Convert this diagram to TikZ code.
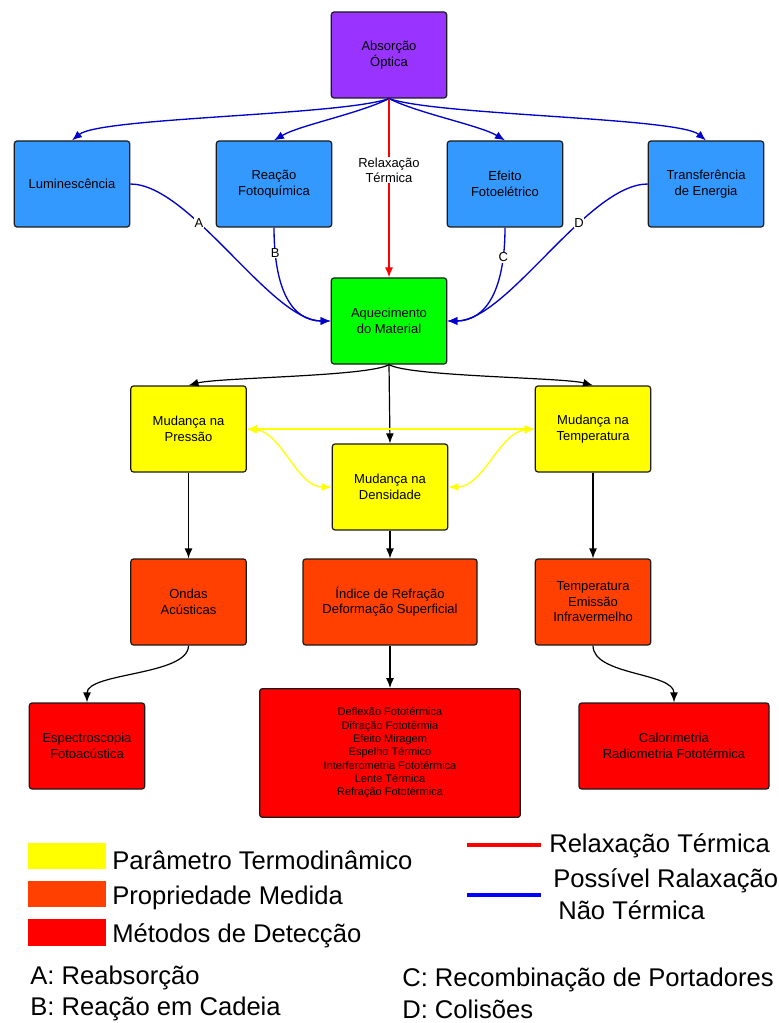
\documentclass[tikz,border=0pt]{standalone}
\usepackage{fontspec}
\setmainfont{Liberation Sans}
\usetikzlibrary{positioning,calc,arrows.meta}

\definecolor{roxo}{HTML}{9933FF}
\definecolor{azul}{HTML}{3399FF}
\definecolor{verde}{HTML}{00FF00}
\definecolor{amarelo}{HTML}{FFFF00}
\definecolor{laranja}{HTML}{FF4000}
\definecolor{vermelho}{HTML}{FF0000}
\definecolor{azulescuro}{HTML}{0000CC}
\definecolor{borda}{HTML}{1A1A1A}

\tikzset{
    caixa/.style={draw=borda, line width=0.9pt, rounded corners=2pt, align=center,
        minimum width=86.5pt, minimum height=64.5pt, inner sep=2pt,
        font=\fontsize{9.75}{11.6}\selectfont},
    rotulo/.style={fill=white, text=black, inner sep=0.5pt, font=\fontsize{9.75}{11.6}\selectfont, align=center},
    legenda/.style={anchor=base west, inner sep=0pt, font=\fontsize{19.2}{23}\selectfont, align=left},
    azulseta/.style={->, azulescuro, line width=1pt},
    pretoseta/.style={->, black, line width=0.9pt},
    amareloseta/.style={<->, amarelo, line width=1pt},
}

\begin{document}
\begin{tikzpicture}[x=0.75pt, y=0.75pt, >={Latex[length=7.5pt,width=6pt]}]
    \useasboundingbox (0,0) rectangle (778,-1023);

    % topo
    \node [caixa, fill=roxo] (abs) at (389,-55) {Absorção\\Óptica};

    % processos de relaxação
    \node [caixa, fill=azul] (lum) at (72,-184) {Luminescência};
    \node [caixa, fill=azul] (rea) at (274,-184) {Reação\\Fotoquímica};
    \node [caixa, fill=azul] (efe) at (505,-184) {Efeito\\Fotoelétrico};
    \node [caixa, fill=azul] (tra) at (706,-184) {Transferência\\de Energia};

    \node [caixa, fill=verde] (aq) at (389,-321) {Aquecimento\\do Material};

    % parametros termodinamicos
    \node [caixa, fill=amarelo] (pre) at (188.5,-429) {Mudança na\\Pressão};
    \node [caixa, fill=amarelo] (den) at (390,-487) {Mudança na\\Densidade};
    \node [caixa, fill=amarelo] (tem) at (593,-429) {Mudança na\\Temperatura};

    % propriedades medidas
    \node [caixa, fill=laranja] (ond) at (188.5,-602) {Ondas\\Acústicas};
    \node [caixa, fill=laranja, minimum width=130.5pt] (ind) at (390,-602) {Índice de Refração\\Deformação Superficial};
    \node [caixa, fill=laranja] (tmp) at (593,-602) {Temperatura\\Emissão\\Infravermelho};

    % metodos de deteccao
    \node [caixa, fill=vermelho] (esp) at (87,-746) {Espectroscopia\\Fotoacústica};
    \node [caixa, fill=vermelho, minimum width=195.5pt, minimum height=96.5pt,
        font=\fontsize{8.25}{10}\selectfont] (met) at (390,-753)
        {Deflexão Fototérmica\\Difração Fototérmia\\Efeito Miragem\\Espelho Térmico\\Interferometria Fototérmica\\Lente Térmica\\Refração Fototérmica};
    \node [caixa, fill=vermelho, minimum width=142.5pt] (cal) at (674,-746) {Calorimetria\\Radiometria Fototérmica};

    % absorcao -> processos nao termicos
    \draw [azulseta] (abs.south) .. controls +(-49,-17) and +(28,23) .. (lum.north);
    \draw [azulseta] (abs.south) .. controls +(-30,-15) and +(25,15) .. (rea.north);
    \draw [azulseta] (abs.south) .. controls +(30,-15) and +(-25,15) .. (efe.north);
    \draw [azulseta] (abs.south) .. controls +(49,-17) and +(-28,23) .. (tra.north);

    % relaxacao termica
    \draw [->, vermelho, line width=1pt] (abs.south) -- node[rotulo, pos=0.4] (rt) {Relaxação\\Térmica} (aq.north);

    % processos -> aquecimento
    \draw [azulseta] (lum.east) .. controls +(60,0) and +(-60,0) .. node[rotulo, pos=0.35] (la) {A} (aq.west);
    \draw [azulseta] (rea.south) .. controls +(0,-60) and +(-40,0) .. node[rotulo, pos=0.15] (lb) {B} (aq.west);
    \draw [azulseta] (efe.south) .. controls +(0,-60) and +(40,0) .. node[rotulo, pos=0.18] (lc) {C} (aq.east);
    \draw [azulseta] (tra.west) .. controls +(-60,0) and +(60,0) .. node[rotulo, pos=0.35] (ld) {D} (aq.east);

    % aquecimento -> parametros
    \draw [pretoseta] (aq.south) .. controls +(-20,-12) and +(30,8) .. (pre.north);
    \draw [pretoseta] (aq.south) -- (den.north);
    \draw [pretoseta] (aq.south) .. controls +(20,-12) and +(-30,8) .. (tem.north);

    % acoplamento entre parametros
    \draw [amareloseta] (pre.east) -- (tem.west);
    \draw [amareloseta] (pre.east) .. controls +(35,-3) and +(-35,0) .. (den.west);
    \draw [amareloseta] (tem.west) .. controls +(-35,-3) and +(35,0) .. (den.east);

    % parametros -> propriedades
    \draw [pretoseta] (pre.south) -- (ond.north);
    \draw [pretoseta] (den.south) -- (ind.north);
    \draw [pretoseta] (tem.south) -- (tmp.north);

    % propriedades -> metodos
    \draw [pretoseta] (ond.south) .. controls +(0,-30) and +(0,30) .. (esp.north);
    \draw [pretoseta] (ind.south) -- (met.north);
    \draw [pretoseta] (tmp.south) .. controls +(0,-30) and +(0,30) .. (cal.north);

    % legenda
    \fill [amarelo] (28,-843) rectangle (106,-869);
    \fill [laranja] (28,-881) rectangle (106,-907);
    \fill [vermelho] (28,-919) rectangle (106,-946);
    \node [legenda] (lg1) at (112,-869) {Parâmetro Termodinâmico};
    \node [legenda] (lg2) at (112,-904) {Propriedade Medida};
    \node [legenda] (lg3) at (112,-942) {Métodos de Detecção};

    \coordinate (r0) at (467,-845);
    \coordinate (r1) at (541,-845);
    \coordinate (b0) at (467,-895);
    \coordinate (b1) at (541,-895);
    \draw [vermelho, line width=3pt] (r0) -- (r1);
    \draw [blue, line width=3pt] (b0) -- (b1);
    \node [legenda] (lg4) at (549,-852) {Relaxação Térmica};
    \node [legenda] (lg5) at (553,-887) {Possível Ralaxação};
    \node [legenda] (lg6) at (558,-919) {Não Térmica};

    \node [legenda] (ca) at (30,-984) {A: Reabsorção};
    \node [legenda] (cb) at (30,-1015) {B: Reação em Cadeia};
    \node [legenda] (cc) at (402,-986) {C: Recombinação de Portadores};
    \node [legenda] (cd) at (402,-1018) {D: Colisões};
\end{tikzpicture}
\end{document}
